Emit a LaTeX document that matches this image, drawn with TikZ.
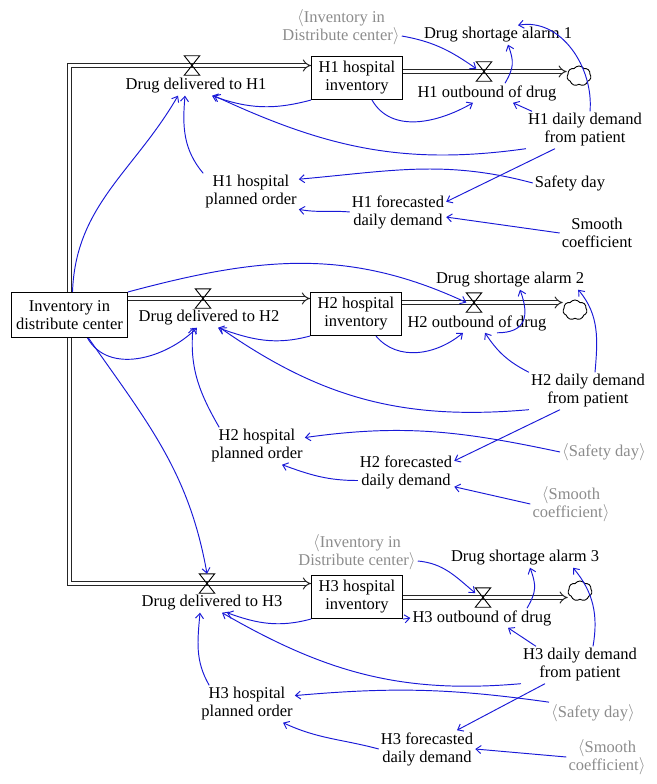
\documentclass[tikz,border=0pt]{standalone}
\usepackage{fontspec}
\setmainfont{Liberation Serif}
\usetikzlibrary{arrows.meta,shapes.symbols}

\definecolor{linkblue}{RGB}{25,25,215}
\definecolor{ghostgray}{RGB}{140,140,140}

\tikzset{
  var/.style={align=center, inner sep=2pt, font=\fontsize{16.5}{18}\selectfont},
  ghost/.style={var, text=ghostgray},
  stock/.style={var, draw, line width=1.1pt, minimum width=91pt, minimum height=43pt},
  pipe/.style={draw=black!85, double, double distance=3.2pt, line width=1pt, -{Implies}},
  valvebox/.style={minimum width=15pt, minimum height=19pt, inner sep=0pt},
  sink/.style={cloud, draw, cloud puffs=7, cloud puff arc=110, aspect=1.2, minimum width=24pt, minimum height=20pt, inner sep=0pt, line width=0.9pt},
  link/.style={draw=linkblue, line width=0.95pt, -{Straight Barb[length=5pt,width=8pt]}}
}

\begin{document}
\begin{tikzpicture}[x=1pt, y=-1pt]
  \useasboundingbox (0,0) rectangle (656,784);
  % stocks
  \node[stock, minimum width=116pt, minimum height=45pt] (inv) at (69.5,315) {Inventory in\\distribute center};
  \node[stock] (h1inv) at (357,78) {H1 hospital\\inventory};
  \node[stock] (h2inv) at (356,314) {H2 hospital\\inventory};
  \node[stock] (h3inv) at (357,597) {H3 hospital\\inventory};
  % valves and sinks
  \node[valvebox] (v1in) at (192,65.5) {};
  \node[valvebox] (v1out) at (484,71.5) {};
  \node[valvebox] (v2in) at (203,298.5) {};
  \node[valvebox] (v2out) at (474,302.5) {};
  \node[valvebox] (v3in) at (207,583.5) {};
  \node[valvebox] (v3out) at (483,597.5) {};
  \node[sink] (cloud1) at (579,76) {};
  \node[sink] (cloud2) at (575,310) {};
  \node[sink] (cloud3) at (580,591) {};
  % flows
  \draw[pipe] (inv.north) |- (v1in -| h1inv.west);
  \draw[pipe] (inv.east |- v2in) -- (h2inv.west |- v2in);
  \draw[pipe] (inv.south) |- (v3in -| h3inv.west);
  \draw[pipe] (h1inv.east |- v1out) -- (v1out -| cloud1.west);
  \draw[pipe] (h2inv.east |- v2out) -- (v2out -| cloud2.west);
  \draw[pipe] (h3inv.east |- v3out) -- (v3out -| cloud3.west);
  \foreach \v in {v1in,v1out,v2in,v2out,v3in,v3out}
    \draw[line width=0.9pt] (\v.north west) -- (\v.north east) -- (\v.south west) -- (\v.south east) -- cycle;

  % H1 variables
  \node[ghost] (ginv1) at (341,27) {$\langle$Inventory in\\Distribute center$\rangle$};
  \node[var] (alarm1) at (498,35) {Drug shortage alarm 1};
  \node[var] (del1) at (196,86) {Drug delivered to H1};
  \node[var] (out1) at (487,93) {H1 outbound of drug};
  \node[var] (dd1) at (585,130) {H1 daily demand\\from patient};
  \node[var] (safe1) at (570,183) {Safety day};
  \node[var] (fc1) at (398,212) {H1 forecasted\\daily demand};
  \node[var] (smooth1) at (597,233) {Smooth\\coefficient};
  \node[var] (po1) at (251,192) {H1 hospital\\planned order};
  % H2 variables
  \node[var] (alarm2) at (510,280) {Drug shortage alarm 2};
  \node[var] (del2) at (209,318) {Drug delivered to H2};
  \node[var] (out2) at (477,323) {H2 outbound of drug};
  \node[var] (dd2) at (588,391) {H2 daily demand\\from patient};
  \node[ghost] (safe2) at (604,452) {$\langle$Safety day$\rangle$};
  \node[var] (fc2) at (406,472) {H2 forecasted\\daily demand};
  \node[ghost] (smooth2) at (571,504) {$\langle$Smooth\\coefficient$\rangle$};
  \node[var] (po2) at (257,446) {H2 hospital\\planned order};
  % H3 variables
  \node[ghost] (ginv3) at (357,552) {$\langle$Inventory in\\Distribute center$\rangle$};
  \node[var] (alarm3) at (525,558) {Drug shortage alarm 3};
  \node[var] (del3) at (212,603) {Drug delivered to H3};
  \node[var] (out3) at (482,618) {H3 outbound of drug};
  \node[var] (dd3) at (580,665) {H3 daily demand\\from patient};
  \node[ghost] (safe3) at (593,713) {$\langle$Safety day$\rangle$};
  \node[var] (fc3) at (427,749) {H3 forecasted\\daily demand};
  \node[ghost] (smooth3) at (607,757) {$\langle$Smooth\\coefficient$\rangle$};
  \node[var] (po3) at (247,704) {H3 hospital\\planned order};

  % H1 links
  \draw[link] ([yshift=-9pt]ginv1.east) to[out=-10, in=145] (v1out.160);
  \draw[link] ([xshift=18pt]out1.north) to[out=60, in=-70, looseness=1.2] ([xshift=10pt]alarm1.south);
  \draw[link] ([xshift=5pt]dd1.north) to[out=85, in=10] ([xshift=20pt]alarm1.north);
  \draw[link] ([xshift=6pt]dd1.north west) -- ([xshift=26pt]out1.south);
  \draw[link] ([xshift=15pt]h1inv.south) to[out=-60, in=-150] ([xshift=-14pt]out1.south);
  \draw[link] (h1inv.south west) to[out=-165, in=-20] ([xshift=16pt]del1.south);
  \draw[link] (dd1.south west) to[out=188, in=-25] ([xshift=18pt]del1.south);
  \draw[link] ([xshift=3pt]inv.north) to[out=88, in=-120] ([xshift=-18pt]del1.south);
  \draw[link] (po1.north west) to[out=130, in=-95] ([xshift=-11pt]del1.south);
  \draw[link] (safe1.west) to[out=165, in=5] (po1.15);
  \draw[link] (fc1.west) to[out=175, in=-10] (po1.-20);
  \draw[link] ([xshift=-30pt]dd1.south) -- (fc1.12);
  \draw[link] (smooth1.west) -- (fc1.-6);

  % H2 links
  \draw[link] (inv.north east) to[out=15, in=155] (v2out.west);
  \draw[link] ([xshift=18pt]inv.south) to[out=-60, in=-135] ([xshift=-12pt]del2.south);
  \draw[link] ([xshift=19pt]inv.south) to[out=-55, in=100] (v3in.north);
  \draw[link] ([xshift=10pt]po2.north west) to[out=120, in=-95] ([xshift=-16pt]del2.south);
  \draw[link] (h2inv.south west) to[out=-165, in=-20] ([xshift=9pt]del2.south);
  \draw[link] (dd2.south west) to[out=185, in=-35] ([xshift=11pt]del2.south);
  \draw[link] ([xshift=20pt]h2inv.south) to[out=-50, in=-140] ([xshift=-14pt]out2.south);
  \draw[link] ([xshift=20pt]out2.south) to[out=0, in=-70, looseness=1.5] ([xshift=10pt]alarm2.south);
  \draw[link] (dd2.north west) to[bend left=15] ([xshift=8pt]out2.south);
  \draw[link] ([xshift=7pt]dd2.north) to[out=85, in=-50] ([xshift=-8pt]alarm2.south east);
  \draw[link] (safe2.west) to[out=168, in=8] (po2.10);
  \draw[link] (fc2.190) to[out=180, in=-20] ([xshift=25pt]po2.south);
  \draw[link] ([xshift=-28pt]dd2.south) -- (fc2.13);
  \draw[link] (smooth2.west) -- (fc2.-17);

  % H3 links
  \draw[link] ([yshift=-9pt]ginv3.east) to[out=-5, in=140] (v3out.150);
  \draw[link] (h3inv.south east) -- (out3.west);
  \draw[link] ([xshift=45pt]out3.north) to[out=60, in=-70, looseness=1.2] ([xshift=5pt]alarm3.south);
  \draw[link] ([xshift=13pt]dd3.north) to[out=80, in=-50] ([xshift=48pt]alarm3.south);
  \draw[link] ([xshift=15pt]dd3.north west) -- ([xshift=26pt]out3.south);
  \draw[link] (h3inv.south west) to[out=-165, in=-20] ([xshift=15pt]del3.south);
  \draw[link] (dd3.south west) to[out=185, in=-30] ([xshift=10pt]del3.south);
  \draw[link] ([xshift=10pt]po3.north west) to[out=120, in=-95] ([xshift=-12pt]del3.south);
  \draw[link] (safe3.north west) to[out=172, in=5] (po3.10);
  \draw[link] (fc3.west) to[out=165, in=-25] ([xshift=36pt]po3.south);
  \draw[link] ([xshift=-35pt]dd3.south) -- ([xshift=30pt]fc3.north);
  \draw[link] (smooth3.west) -- (fc3.east);
\end{tikzpicture}
\end{document}
